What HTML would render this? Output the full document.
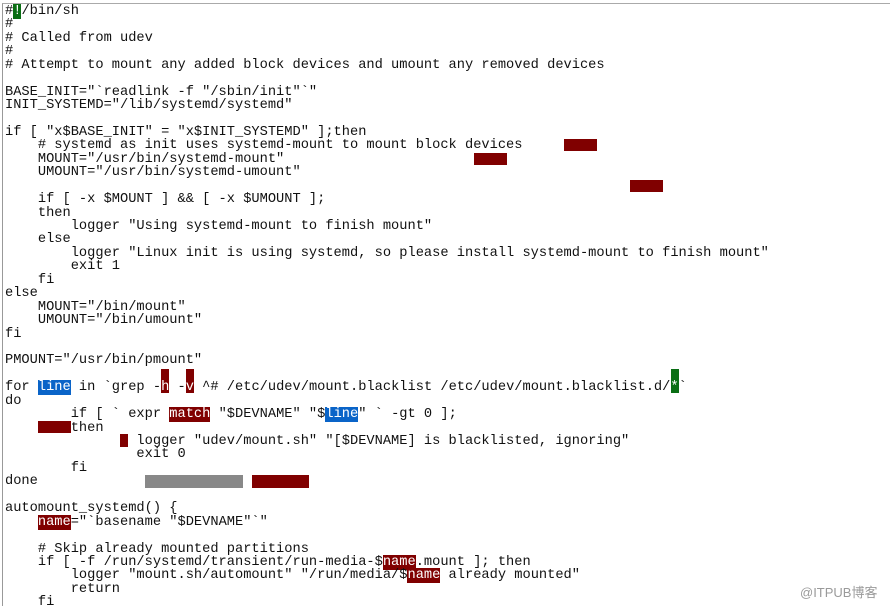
<!DOCTYPE html>
<html><head><meta charset="utf-8"><style>
html,body{margin:0;padding:0;background:#fff;width:890px;height:606px;overflow:hidden;position:relative}
.frame{position:absolute;left:2px;top:3px;width:900px;height:620px;border-left:1px solid #999;border-top:1px solid #aaa}
pre{position:absolute;left:5px;top:5px;margin:0;font-family:"Liberation Mono",monospace;font-size:13.7px;line-height:13.43px;color:#111;letter-spacing:0}
.r{background:#800000;color:#fff}
.b{background:#0a64c8;color:#fff}
.g{background:#0a6e14;color:#fff}
.box{position:absolute}
.wm{position:absolute;left:800px;top:582px;font-family:"Liberation Sans","Noto Sans CJK SC",sans-serif;font-size:13px;color:#9a9a9a}
</style></head><body>
<div class="frame"></div>
<div class="box" style="left:564px;top:139px;width:33px;height:12px;background:#800000"></div>
<div class="box" style="left:474px;top:153px;width:33px;height:12px;background:#800000"></div>
<div class="box" style="left:630px;top:180px;width:33px;height:12px;background:#800000"></div>
<div class="box" style="left:161px;top:369px;width:8px;height:24px;background:#800000"></div>
<div class="box" style="left:186px;top:369px;width:8px;height:24px;background:#800000"></div>
<div class="box" style="left:671px;top:369px;width:8px;height:24px;background:#0a6e14"></div>
<div class="box" style="left:38px;top:421px;width:33px;height:12px;background:#800000"></div>
<div class="box" style="left:120px;top:434px;width:8px;height:13px;background:#800000"></div>
<div class="box" style="left:145px;top:475px;width:98px;height:13px;background:#888"></div>
<div class="box" style="left:252px;top:475px;width:57px;height:13px;background:#800000"></div>
<pre>#<span class="g">!</span>/bin/sh
#
# Called from udev
#
# Attempt to mount any added block devices and umount any removed devices

BASE_INIT="`readlink -f "/sbin/init"`"
INIT_SYSTEMD="/lib/systemd/systemd"

if [ "x$BASE_INIT" = "x$INIT_SYSTEMD" ];then
    # systemd as init uses systemd-mount to mount block devices
    MOUNT="/usr/bin/systemd-mount"
    UMOUNT="/usr/bin/systemd-umount"

    if [ -x $MOUNT ] &amp;&amp; [ -x $UMOUNT ];
    then
        logger "Using systemd-mount to finish mount"
    else
        logger "Linux init is using systemd, so please install systemd-mount to finish mount"
        exit 1
    fi
else
    MOUNT="/bin/mount"
    UMOUNT="/bin/umount"
fi

PMOUNT="/usr/bin/pmount"

for <span class="b">line</span> in `grep -<span style="color:#fff">h</span> -<span style="color:#fff">v</span> ^# /etc/udev/mount.blacklist /etc/udev/mount.blacklist.d/<span style="color:#fff">*</span>`
do
        if [ ` expr <span class="r">match</span> "$DEVNAME" "$<span class="b">line</span>" ` -gt 0 ];
        then
                logger "udev/mount.sh" "[$DEVNAME] is blacklisted, ignoring"
                exit 0
        fi
done

automount_systemd() {
    <span class="r">name</span>="`basename "$DEVNAME"`"

    # Skip already mounted partitions
    if [ -f /run/systemd/transient/run-media-$<span class="r">name</span>.mount ]; then
        logger "mount.sh/automount" "/run/media/$<span class="r">name</span> already mounted"
        return
    fi</pre>
<div class="wm">@ITPUB博客</div>
</body></html>
